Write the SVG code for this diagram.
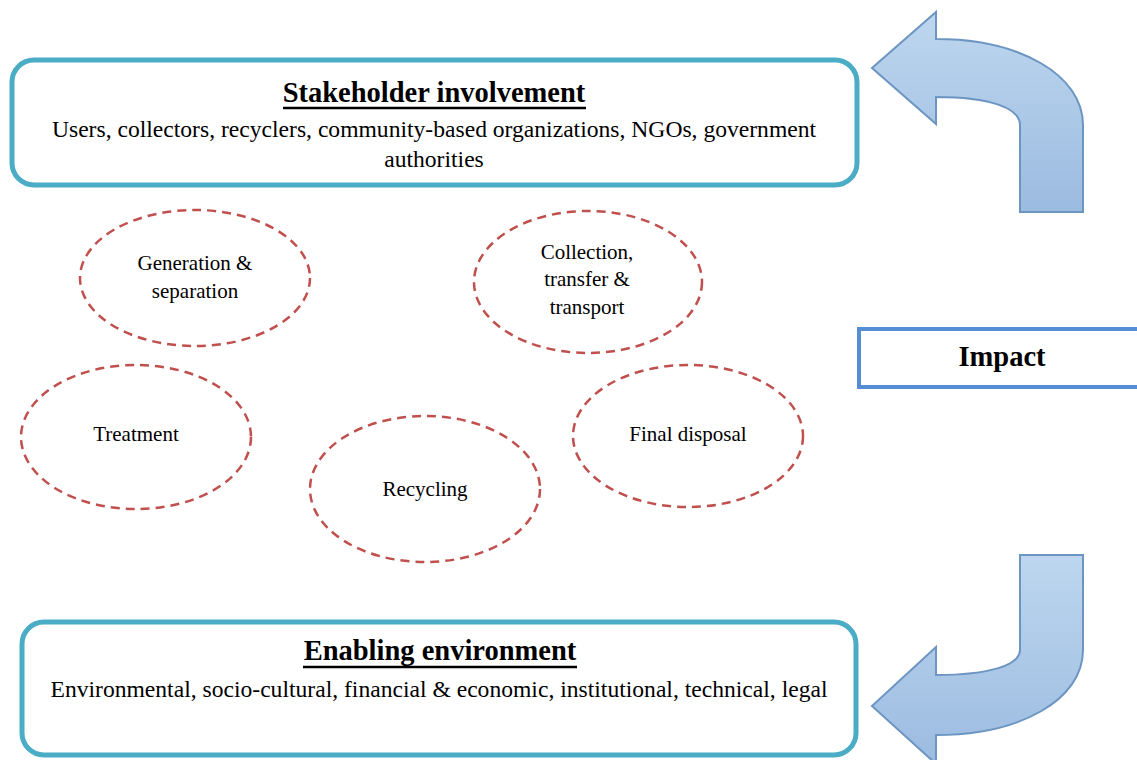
<svg xmlns="http://www.w3.org/2000/svg" width="1137" height="760" viewBox="0 0 1137 760">
<style>
.box{fill:#fff;stroke:#4bacc6;stroke-width:5}
.impact{fill:#fff;stroke:#558ed5;stroke-width:4}
.ell{fill:none;stroke:#c0504d;stroke-width:2.5;stroke-dasharray:9 6}
.arrow{fill:url(#ag);stroke:#6d95c2;stroke-width:2;stroke-linejoin:miter}
.ul{stroke:#000;stroke-width:2.5}
text{font-family:'Liberation Serif','Times New Roman',Times,'DejaVu Serif',serif;fill:#000;text-anchor:middle}
.title{font-weight:bold;font-size:28.5px}
.body{font-size:23.6px}
.lbl{font-size:21px}
.imp{font-weight:bold;font-size:28.5px}
</style>
<defs>
<linearGradient id="ag" x1="0" y1="0" x2="0" y2="1">
<stop offset="0" stop-color="#bed7ef"/>
<stop offset="1" stop-color="#9bbbe0"/>
</linearGradient>
</defs>
<rect width="1137" height="760" fill="#fff"/>
<g id="connectors">
<path class="arrow" d="M872,68 L936,12 L936,39 C1020,39 1083,75 1083,125 L1083,212 L1020,212 L1020,125 C1020,108 990,97 936,97 L936,124 Z"/>
<path class="arrow" d="M1020,555 L1083,555 L1083,650 C1083,700 1020,735 936,735 L936,764 L872,706 L936,647 L936,675 C990,675 1020,665 1020,650 Z"/>
</g>
<g id="stakeholder">
<rect class="box" x="12" y="60" width="845" height="125" rx="22"/>
<text class="title" x="434" y="102">Stakeholder involvement</text>
<line class="ul" x1="283" y1="108" x2="586" y2="108"/>
<text class="body" x="434" y="137">Users, collectors, recyclers, community-based organizations, NGOs, government</text>
<text class="body" x="434" y="167">authorities</text>
</g>
<g id="enabling">
<rect class="box" x="22" y="622" width="834" height="133" rx="22"/>
<text class="title" x="440" y="660">Enabling environment</text>
<line class="ul" x1="303" y1="667" x2="577" y2="667"/>
<text class="body" x="439" y="697">Environmental, socio-cultural, financial &amp; economic, institutional, technical, legal</text>
</g>
<g id="impact">
<rect class="impact" x="859" y="329" width="300" height="58"/>
<text class="imp" x="1002" y="366">Impact</text>
</g>
<g id="generation">
<ellipse class="ell" cx="195" cy="278" rx="115" ry="68"/>
<text class="lbl" x="195" y="270">Generation &amp;</text>
<text class="lbl" x="195" y="298">separation</text>
</g>
<g id="collection">
<ellipse class="ell" cx="588" cy="282" rx="114" ry="71"/>
<text class="lbl" x="587" y="259">Collection,</text>
<text class="lbl" x="587" y="286">transfer &amp;</text>
<text class="lbl" x="587" y="314">transport</text>
</g>
<g id="treatment">
<ellipse class="ell" cx="136" cy="437" rx="115" ry="72"/>
<text class="lbl" x="136" y="441">Treatment</text>
</g>
<g id="recycling">
<ellipse class="ell" cx="425" cy="489" rx="115" ry="73"/>
<text class="lbl" x="425" y="496">Recycling</text>
</g>
<g id="final">
<ellipse class="ell" cx="688" cy="436" rx="115" ry="71"/>
<text class="lbl" x="688" y="441">Final disposal</text>
</g>
</svg>
